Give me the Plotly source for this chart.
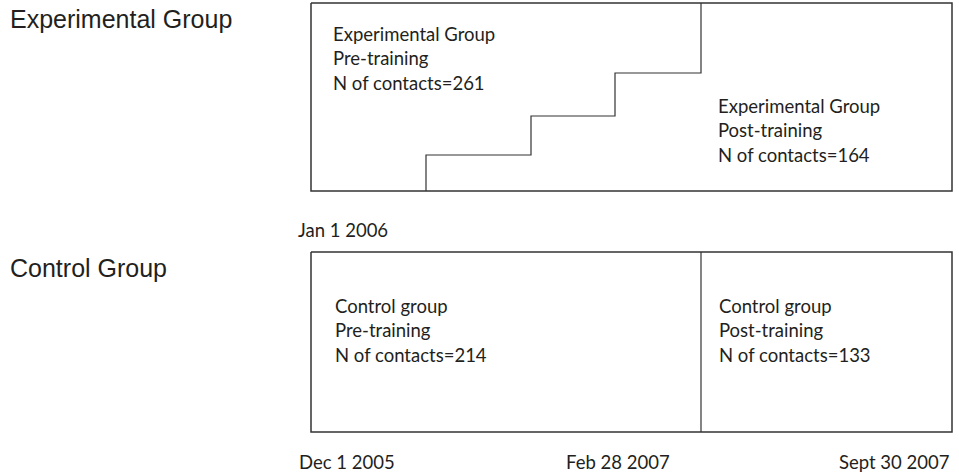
import plotly.graph_objects as go

# study timeline and contact counts
groups = ["Experimental Group", "Control Group"]
phases = ["Pre-training", "Post-training"]
group_names = [["Experimental Group", "Experimental Group"], ["Control group", "Control group"]]
contacts = [[261, 164], [214, 133]]

date_labels = ["Jan 1 2006", "Dec 1 2005", "Feb 28 2007", "Sept 30 2007"]

# diagram geometry (drawing units)
box_left = 311
box_right = 952
box_top = [3, 252]
box_bottom = [191, 432]
ctrl_split = 701

# staggered switch-over of the experimental group
stair_x = [426, 531, 615, 701, 701]
stair_y = [191, 155, 116, 73, 3]

LINE = "#333333"
TXT = "#231f20"
FONT_BOX = "Lato"
FONT_SIDE = "Liberation Sans"

fig = go.Figure()

# group boxes
for top, bot in zip(box_top, box_bottom):
    fig.add_trace(go.Scatter(
        x=[box_left, box_right, box_right, box_left, box_left],
        y=[top, top, bot, bot, top],
        mode="lines", line=dict(color=LINE, width=1.5),
        hoverinfo="skip", showlegend=False,
    ))

fig.add_trace(go.Scatter(
    x=stair_x, y=stair_y, mode="lines",
    line=dict(color=LINE, width=1.2, shape="vh"),
    hoverinfo="skip", showlegend=False,
))

fig.add_trace(go.Scatter(
    x=[ctrl_split, ctrl_split], y=[box_top[1], box_bottom[1]], mode="lines",
    line=dict(color=LINE, width=1.2),
    hoverinfo="skip", showlegend=False,
))

# text blocks inside boxes: (group, phase) -> left x, first line y
text_pos = {(0, 0): (333, 36), (0, 1): (718, 108), (1, 0): (335, 308), (1, 1): (719, 308)}
line_gap = 24.5
for (g, p), (tx, ty) in text_pos.items():
    lines = [group_names[g][p], phases[p], f"N of contacts={contacts[g][p]}"]
    fig.add_trace(go.Scatter(
        x=[tx] * 3, y=[ty + i * line_gap for i in range(3)],
        mode="text", text=lines, textposition="middle right",
        textfont=dict(family=FONT_BOX, size=18.5, color=TXT),
        hoverinfo="skip", showlegend=False,
    ))

# side group titles
for g, y in zip(groups, [19, 268]):
    fig.add_annotation(x=8, y=y, text=g, showarrow=False, xanchor="left", yanchor="middle",
                       font=dict(family=FONT_SIDE, size=25, color=TXT))

# date labels
date_pos = [(296, 230, "left"), (297, 462, "left"), (618, 462, "center"), (951, 462, "right")]
for lab, (dx, dy, anc) in zip(date_labels, date_pos):
    fig.add_annotation(x=dx, y=dy, text=lab, showarrow=False, xanchor=anc, yanchor="middle",
                       font=dict(family=FONT_BOX, size=18.5, color=TXT))

fig.update_xaxes(range=[0, 959], visible=False, fixedrange=True)
fig.update_yaxes(range=[475, 0], visible=False, fixedrange=True)
fig.update_layout(
    width=959, height=475,
    margin=dict(l=0, r=0, t=0, b=0),
    plot_bgcolor="white", paper_bgcolor="white",
)

fig.write_html("out.html", config={"displayModeBar": False},
               post_script="document.body.style.margin='0';")
